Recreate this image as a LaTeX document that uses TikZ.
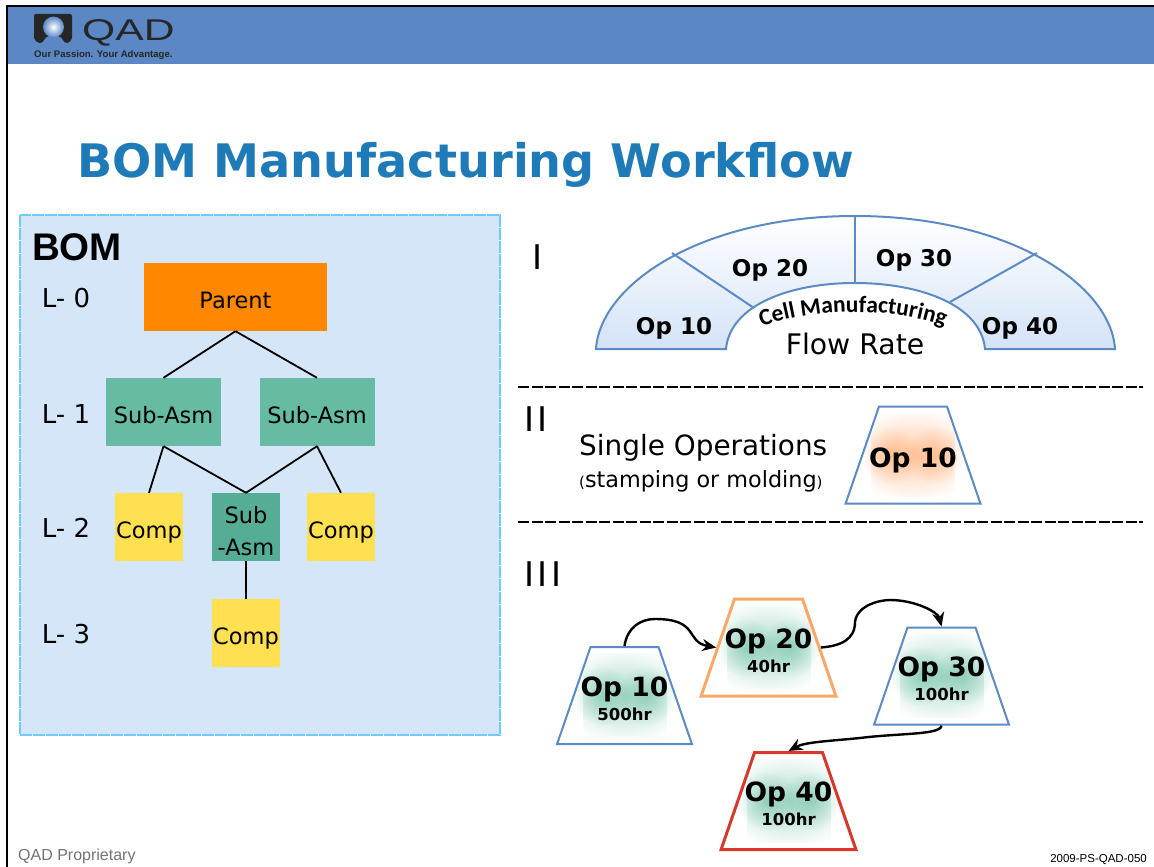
\documentclass[tikz,border=0pt]{standalone}
\usepackage{fontspec}
\setmainfont{DejaVu Sans}
\newfontfamily\arialfont{Liberation Sans}
\newfontfamily\cellfont{Carlito}
\usetikzlibrary{
  arrows.meta,
  fadings,
  shapes.geometric,
  decorations.text
}
\definecolor{bandblue}{HTML}{5B87C5}
\definecolor{titleblue}{HTML}{1F7AB8}
\definecolor{panelblue}{HTML}{D6E6F9}
\definecolor{panelline}{HTML}{6FCBFA}
\definecolor{linkblue}{HTML}{5B8AC5}
\definecolor{fanblue}{HTML}{D3E3F7}
\definecolor{partorange}{HTML}{FF8800}
\definecolor{asmgreen}{HTML}{66BBA3}
\definecolor{subgreen}{HTML}{55AD96}
\definecolor{compyellow}{HTML}{FFE050}
\definecolor{glowgreen}{HTML}{5DB89A}
\definecolor{gloworange}{HTML}{FF9E5C}
\definecolor{oplineorange}{HTML}{F9A868}
\definecolor{oplinered}{HTML}{D5392D}
\tikzfading[name=glowfade, inner color=transparent!0, outer color=transparent!100]
\newcommand{\fs}[1]{\fontsize{#1}{#1}\selectfont}
\tikzset{
  bomnode/.style={minimum height=68pt, inner sep=0pt, font=\fs{22.5}, align=center,
    text height=22pt, text depth=0pt},
  parentbox/.style={bomnode, fill=partorange, minimum width=183pt},
  asmbox/.style={bomnode, fill=asmgreen, minimum width=115pt},
  subbox/.style={bomnode, fill=subgreen, minimum width=68pt},
  compbox/.style={bomnode, fill=compyellow, minimum width=68pt},
  bomline/.style={black, line width=1.8pt},
  label/.style={inner sep=0pt, anchor=base, font=\fs{26}},
  oplabel/.style={inner sep=0pt, anchor=base, font=\bfseries\fs{23}},
  optrap/.style={trapezium, trapezium angle=71, trapezium stretches body=true,
    text width=68pt, minimum height=97pt, inner sep=0pt, align=center,
    text height=49pt, text depth=48pt},
  glow/.style={path picture={
    \fill[#1, path fading=glowfade, opacity=.5]
      (path picture bounding box.center) ++(-42,-42) rectangle ++(84,84);
    \fill[#1, path fading=glowfade, opacity=.5]
      (path picture bounding box.center) ++(-52,-30) rectangle ++(60,60);
    \fill[#1, path fading=glowfade, opacity=.5]
      (path picture bounding box.center) ++(-8,-30) rectangle ++(60,60);}},
  flowarrow/.style={black, line width=2.4pt, -{Stealth[length=14pt,width=12pt]}},
  sepline/.style={black, line width=1.8pt, dash pattern=on 11pt off 2.5pt}
}
\newcommand{\opname}[1]{\makebox[0pt]{\hbox{\spaceskip=0pt\bfseries\fs{26.5}#1}}}
\newcommand{\ophours}[1]{\makebox[0pt]{\hbox{\bfseries\fs{16.5}#1}}}
\begin{document}
\begin{tikzpicture}[x=1pt, y=-1pt]
  \useasboundingbox (0,0) rectangle (1154,867);
  % slide frame and header
  \fill[bandblue] (7,6) rectangle (1154,64);
  \draw[black, line width=2.4pt] (7,867) -- (7,6) -- (1154,6);
  % logo
  \fill[black!85, rounded corners=2pt] (34,14) -- (72,14) -- (72,40) -- (66,44)
    -- (60,36) -- (47,36) -- (41,44) -- (34,40) -- cycle;
  \shade[inner color=white, outer color=bandblue] (53.5,27) circle (10.5);
  \node[inner sep=0pt, anchor=base west, font=\arialfont\fs{30}, text=black!85] (logoname) at (82,41) {\scalebox{1.42}[1]{QAD}};
  \node[inner sep=0pt, anchor=base west, font=\arialfont\bfseries\fs{9.6}, text=black!85] (logotag) at (34,58) {Our Passion. Your Advantage.};
  % title
  \node[inner sep=0pt, anchor=base west, font=\bfseries\fs{46.2}, text=titleblue] (title) at (77,177) {BOM Manufacturing Workf{}low};
  % left panel
  \draw[panelline, fill=panelblue, line width=2.4pt, dash pattern=on 12pt off 1pt] (20,215) rectangle (500,735);
  \node[inner sep=0pt, anchor=base west, font=\arialfont\bfseries\fs{38.5}] (bomhead) at (32,260) {BOM};
  \node[label] (lzero) at (66,307) {L- 0};
  \node[label] (lone) at (66,423) {L- 1};
  \node[label] (ltwo) at (66,537) {L- 2};
  \node[label] (lthree) at (66,643) {L- 3};
  \node[parentbox] (parent) at (235.5,297) {Parent};
  \node[asmbox] (asma) at (163.5,412) {Sub-Asm};
  \node[asmbox] (asmb) at (317,412) {Sub-Asm};
  \node[compbox] (compa) at (149,527) {Comp};
  \node[subbox, text height=62pt, text depth=6pt] (asmc) at (246,527) {Sub\\[9pt]-Asm};
  \node[compbox] (compb) at (341,527) {Comp};
  \node[compbox] (compc) at (246,633) {Comp};
  \draw[bomline] (parent.south) -- (asma.north);
  \draw[bomline] (parent.south) -- (asmb.north);
  \draw[bomline] (asma.south) -- (compa.north);
  \draw[bomline] (asma.south) -- (asmc.north);
  \draw[bomline] (asmb.south) -- (asmc.north);
  \draw[bomline] (asmb.south) -- (compb.north);
  \draw[bomline] (asmc.south) -- (compc.north);
  % row I
  \node[inner sep=0pt, anchor=base, font=\fs{34}] (romana) at (538,269) {I};
  \shade[top color=white, bottom color=fanblue, draw=linkblue, line width=2pt]
    (596,349) .. controls (600,285) and (700,216) .. (855,216)
    .. controls (1010,216) and (1111,285) .. (1115,349)
    -- (985,349) .. controls (981,305) and (920,283) .. (855,283)
    .. controls (790,283) and (730,305) .. (726,349) -- cycle;
  \coordinate (spokea) at (672,253);
  \coordinate (spokeb) at (754,308);
  \coordinate (spokec) at (855,216);
  \coordinate (spoked) at (855,283);
  \coordinate (spokee) at (1037,253);
  \coordinate (spokef) at (950,302);
  \draw[linkblue, line width=2pt] (spokea) -- (spokeb);
  \draw[linkblue, line width=2pt] (spokec) -- (spoked);
  \draw[linkblue, line width=2pt] (spokee) -- (spokef);
  \node[oplabel] (fana) at (674,334) {Op 10};
  \node[oplabel] (fanb) at (770,276) {Op 20};
  \node[oplabel] (fanc) at (914,266) {Op 30};
  \node[oplabel] (fand) at (1020,334) {Op 40};
  \path[decorate, decoration={text along path, text align=center,
      text={|\cellfont\bfseries\fs{23.5}|Cell Manufacturing}}]
    (760,327) .. controls (820,307) and (890,307) .. (946,327);
  \node[inner sep=0pt, anchor=base, font=\fs{28.3}] (flowrate) at (855,354) {Flow Rate};
  \coordinate (sepaw) at (518,387);
  \coordinate (sepae) at (1143,387);
  \draw[sepline] (sepaw) -- (sepae);
  % row II
  \node[inner sep=0pt, anchor=base, font=\fs{34}] (romanb) at (536,431) {I\kern3ptI};
  \node[inner sep=0pt, anchor=base west, font=\fs{27.9}] (single) at (579,455) {Single Operations};
  \node[inner sep=0pt, anchor=base west, font=\fs{22.3}] (stamping) at (579,487) {{\fs{15}(}stamping or molding{\fs{15})}};
  \node[optrap, glow=gloworange, draw=linkblue, line width=2pt, text height=60.5pt, text depth=36.5pt] (opsingle) at (913,455) {\opname{Op 10}};
  \coordinate (sepbw) at (518,522);
  \coordinate (sepbe) at (1143,522);
  \draw[sepline, line width=2.6pt] (sepbw) -- (sepbe);
  % row III
  \node[inner sep=0pt, anchor=base, font=\fs{34}] (romanc) at (543,586) {I\kern3ptI\kern3ptI};
  \node[optrap, glow=glowgreen, draw=linkblue, line width=2pt] (opa) at (624.5,695.5) {\opname{Op 10}\\[5pt]\ophours{500hr}};
  \node[optrap, glow=glowgreen, draw=oplineorange, line width=3pt] (opb) at (768.5,647.5) {\opname{Op 20}\\[5pt]\ophours{40hr}};
  \node[optrap, glow=glowgreen, draw=linkblue, line width=2pt] (opc) at (941.5,676) {\opname{Op 30}\\[5pt]\ophours{100hr}};
  \node[optrap, glow=glowgreen, draw=oplinered, line width=3pt] (opd) at (788.5,801) {\opname{Op 40}\\[5pt]\ophours{100hr}};
  \draw[flowarrow] (opa.north) .. controls (627,628) and (640,619) .. (655,619)
    .. controls (700,619) and (685,642) .. (opb.west);
  \draw[flowarrow] (opb.east) .. controls (840,646) and (855,640) .. (855,622)
    .. controls (857,605) and (880,600) .. (890,600)
    .. controls (915,600) and (938,612) .. (opc.north);
  \draw[flowarrow] (opc.south) .. controls (941,735) and (900,733) .. (860,738)
    .. controls (830,741) and (805,742) .. (opd.north);
  % footer
  \node[inner sep=0pt, anchor=base west, font=\arialfont\fs{16}, text=black!55] (footl) at (18,860) {QAD Proprietary};
  \node[inner sep=0pt, anchor=base east, font=\arialfont\fs{11.5}] (footr) at (1147,862) {2009-PS-QAD-050};
\end{tikzpicture}
\end{document}
